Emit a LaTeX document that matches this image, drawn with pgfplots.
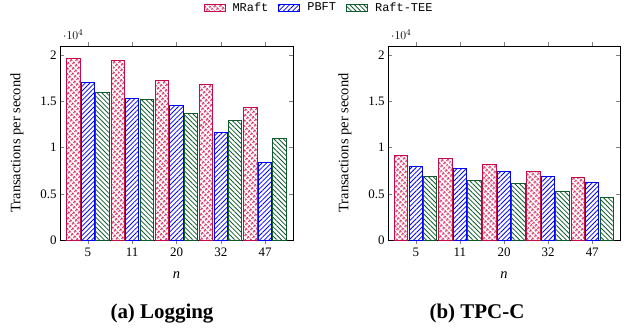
\documentclass[border=0pt]{standalone}
\usepackage{fontspec}
\setmainfont{Liberation Serif}
\setmonofont{Liberation Mono}
\usepackage{pgfplots}
\pgfplotsset{compat=1.18}
\usetikzlibrary{patterns,patterns.meta}
\definecolor{mraft}{RGB}{200,10,70}
\definecolor{pbft}{RGB}{0,0,255}
\definecolor{tee}{RGB}{15,90,45}
\pgfplotsset{
  common/.style={
    scale only axis, anchor=south west,
    height=194bp,
    ymin=0, ymax=21000, xmin=-0.63, xmax=4.63,
    xtick={0,1,2,3,4}, xticklabels={5,11,20,32,47},
    ytick={0,5000,10000,15000,20000},
    ybar=1.2bp, bar width=13.3bp,
    tick label style={font=\fontsize{13}{13}\selectfont},
    /pgf/number format/assume math mode=true,
    label style={font=\fontsize{14.5}{14.5}\selectfont},
    xlabel={\textit{n}},
    xlabel style={at={(axis description cs:0.5,0)}, anchor=base, yshift=-38bp},
    ylabel={Transactions per second},
    major tick style={gray, line width=0.5pt},
    axis line style={line width=0.7pt},
    legend image code/.code={\draw[#1] (0bp,-3.5bp) rectangle (21bp,3.5bp);},
  },
  bm/.style={draw=mraft, line width=1pt, pattern={Hatch[angle=45,distance=3.6bp,line width=0.8bp]}, pattern color=mraft},
  bp/.style={draw=pbft, line width=1pt, pattern={Lines[angle=45,distance=3.3bp,line width=0.8bp]}, pattern color=pbft},
  bt/.style={draw=tee, line width=1pt, pattern={Lines[angle=-45,distance=3.3bp,line width=0.8bp]}, pattern color=tee},
}
\begin{document}
\begin{tikzpicture}[x=1bp,y=1bp]
\path[use as bounding box] (0,0) rectangle (631,327);
\begin{axis}[common, width=233bp, at={(60bp,87bp)},
  ylabel style={at={(axis description cs:-0.1845,0.5)}, anchor=center},
  legend style={at={(axis description cs:1.1116,1.198)}, anchor=center, draw=none,
    font=\ttfamily\fontsize{12}{12}\selectfont,
    /tikz/every odd column/.append style={column sep=5bp},
    /tikz/every even column/.append style={column sep=8bp}},
  legend columns=-1]
\addplot[bm] coordinates {(0,19640) (1,19460) (2,17250) (3,16850) (4,14310)};
\addplot[bp] coordinates {(0,17030) (1,15290) (2,14530) (3,11670) (4,8440)};
\addplot[bt] coordinates {(0,15940) (1,15250) (2,13730) (3,12970) (4,10980)};
\legend{MRaft,PBFT,Raft-TEE}
\end{axis}
\begin{axis}[common, width=232bp, at={(388bp,87bp)},
  ylabel style={at={(axis description cs:-0.1853,0.5)}, anchor=center}]
\addplot[bm] coordinates {(0,9130) (1,8770) (2,8120) (3,7430) (4,6810)};
\addplot[bp] coordinates {(0,7970) (1,7750) (2,7430) (3,6920) (4,6230)};
\addplot[bt] coordinates {(0,6880) (1,6490) (2,6090) (3,5220) (4,4600)};
\end{axis}
\node[font=\bfseries\fontsize{21}{21}\selectfont, anchor=base] at (162,9) {(a) Logging};
\node[font=\bfseries\fontsize{21}{21}\selectfont, anchor=base] at (477,9) {(b) TPC-C};
\end{tikzpicture}
\end{document}
